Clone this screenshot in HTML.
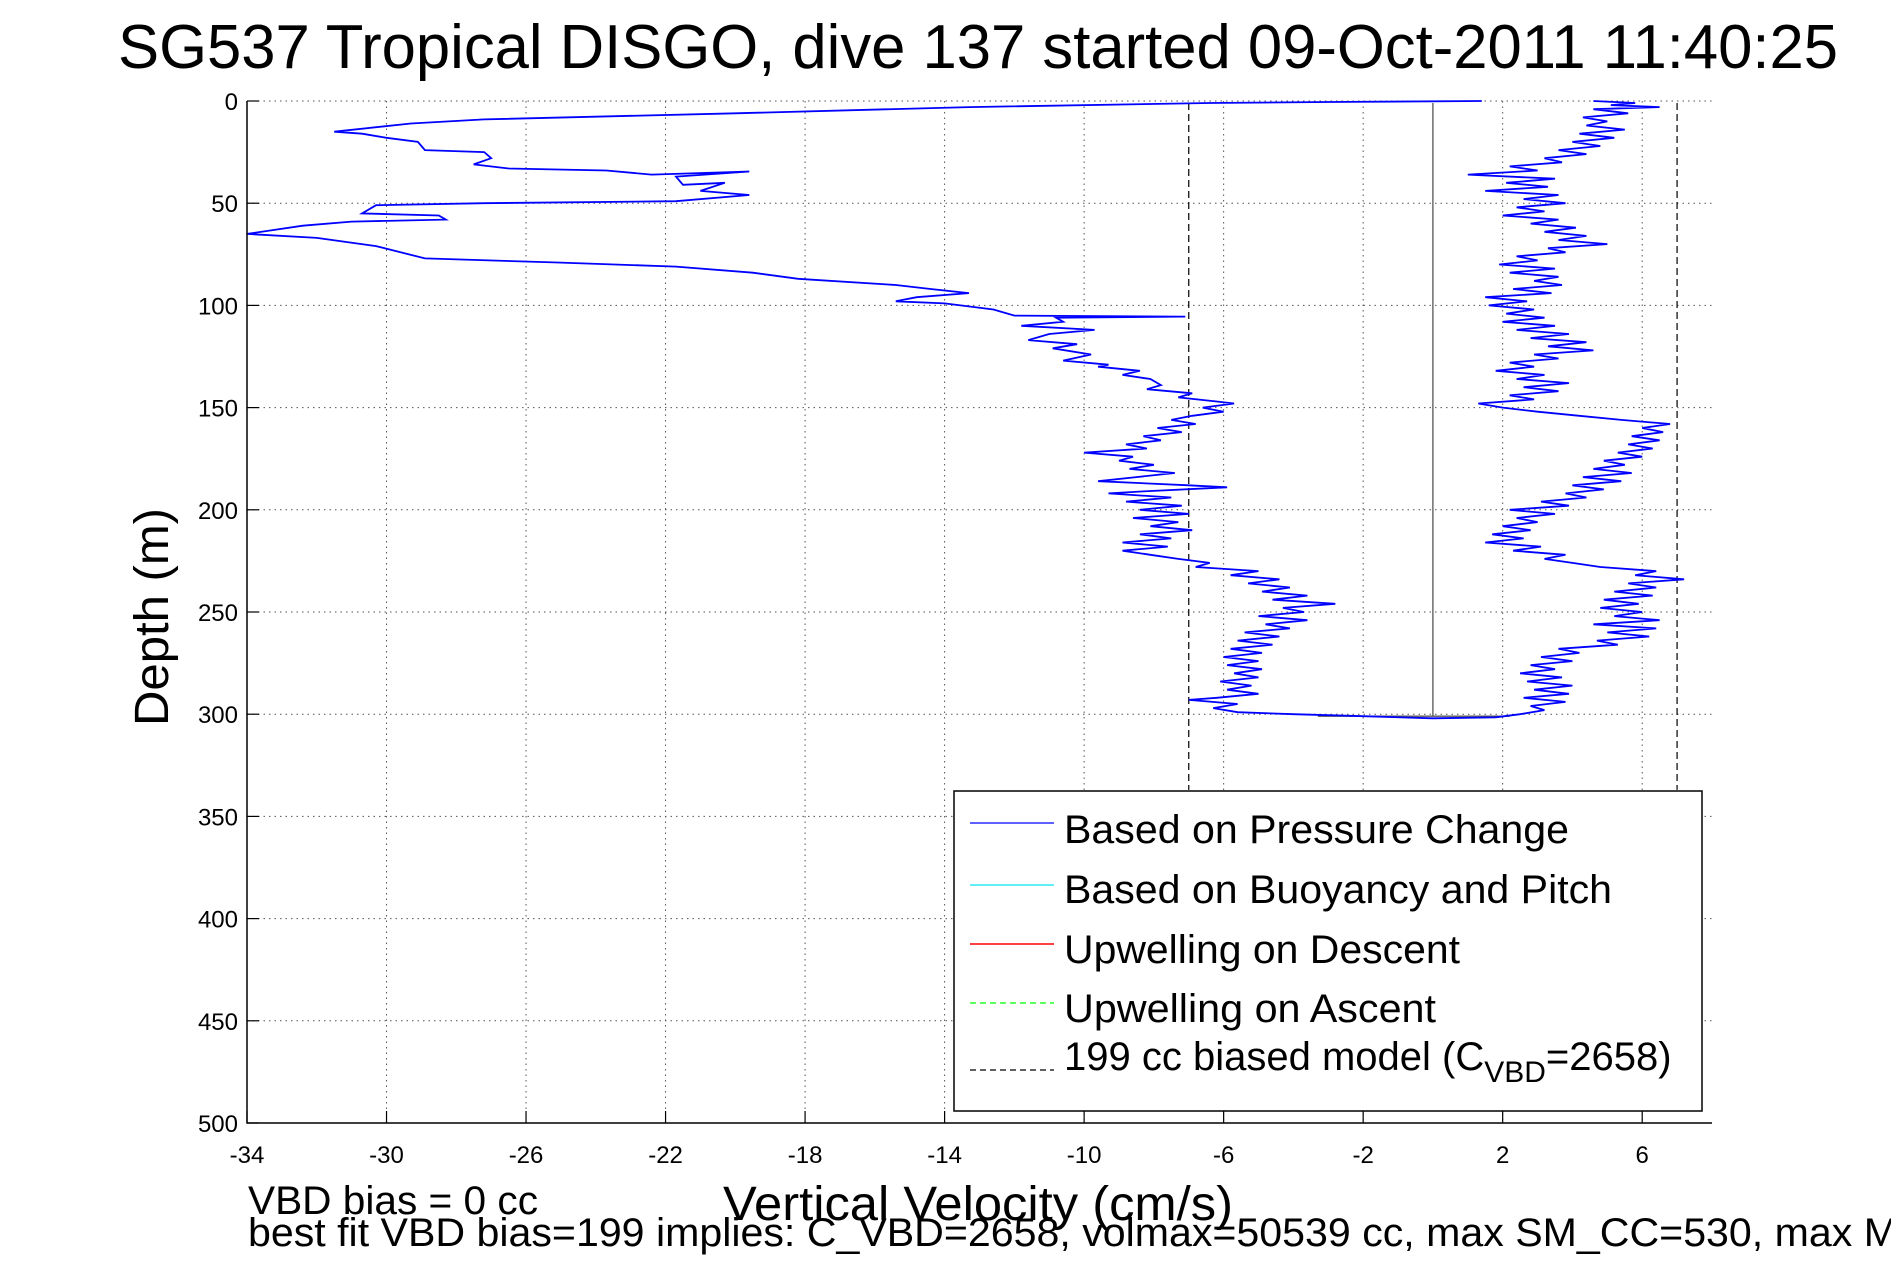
<!DOCTYPE html>
<html><head><meta charset="utf-8"><style>
html,body{margin:0;padding:0;background:#fff;}
svg{display:block;font-family:"Liberation Sans",sans-serif;}
</style></head><body>
<svg id="chart" width="1891" height="1262" viewBox="0 0 1891 1262" xmlns="http://www.w3.org/2000/svg">
<rect x="0" y="0" width="1891" height="1262" fill="#fff"/>
<text x="118" y="68" font-size="62" textLength="1720" lengthAdjust="spacingAndGlyphs">SG537 Tropical DISGO, dive 137 started 09-Oct-2011 11:40:25</text>
<g id="grid"></g>
<g id="series"></g>
<g id="axes"></g>
<text transform="translate(168,726) rotate(-90)" font-size="48" textLength="218" lengthAdjust="spacingAndGlyphs">Depth (m)</text>
<text x="723" y="1220" font-size="48" textLength="510" lengthAdjust="spacingAndGlyphs">Vertical Velocity (cm/s)</text>
<text x="248" y="1214" font-size="40" textLength="290" lengthAdjust="spacingAndGlyphs">VBD bias = 0 cc</text>
<text x="248" y="1246" font-size="40" textLength="1650" lengthAdjust="spacingAndGlyphs">best fit VBD bias=199 implies: C_VBD=2658, volmax=50539 cc, max SM_CC=530, max M</text>
<g>
<rect x="954" y="791" width="748" height="320" fill="#fff" stroke="#000" stroke-width="1.5"/>
<line x1="970" y1="823" x2="1054" y2="823" stroke="#0000ff" stroke-width="1.2"/>
<text x="1064" y="843" font-size="40" textLength="505" lengthAdjust="spacingAndGlyphs">Based on Pressure Change</text>
<line x1="970" y1="885" x2="1054" y2="885" stroke="#00e5ee" stroke-width="1.2"/>
<text x="1064" y="903" font-size="40" textLength="548" lengthAdjust="spacingAndGlyphs">Based on Buoyancy and Pitch</text>
<line x1="970" y1="944" x2="1054" y2="944" stroke="#ff0000" stroke-width="1.5"/>
<text x="1064" y="963" font-size="40" textLength="396" lengthAdjust="spacingAndGlyphs">Upwelling on Descent</text>
<line x1="970" y1="1003" x2="1054" y2="1003" stroke="#00ff00" stroke-width="1.2" stroke-dasharray="6,4"/>
<text x="1064" y="1022" font-size="40" textLength="372" lengthAdjust="spacingAndGlyphs">Upwelling on Ascent</text>
<line x1="970" y1="1070" x2="1054" y2="1070" stroke="#000" stroke-width="1.2" stroke-dasharray="6,4"/>
<text x="1064" y="1070" font-size="40">199 cc biased model (C<tspan font-size="30" dy="12">VBD</tspan><tspan dy="-12">=2658)</tspan></text>
</g>
</svg>
<script>
const xTicks=[-34,-30,-26,-22,-18,-14,-10,-6,-2,2,6];
const yTicks=[0,50,100,150,200,250,300,350,400,450,500];
const descentDepth=[0,0.5,1,3,6,9,11,15,16,18,20,24,25,28,31,33,34,36,34.5,37,41,40,44,46,49,50,51,55,56,58,59,61,65,67,71,77,79,81,84,87,90,92,94,96,98,99,102,105,105.5,106,108,110,112,114,117,119,121,124,127,129,130,132,134,136,139,141,143,145,147,148,150,152,154,156,158,160,162,164,166,168,170,172,174,176,178,180,182,184,186,188,189,191,192,194,196,198,200,202,204,206,208,210,212,214,216,218,220,222,224,226,228,230,232,234,236,238,240,242,244,246,248,250,252,254,256,258,260,262,264,266,268,270,272,274,276,278,280,282,284,286,288,290,292,293,295,297,299,300,301,302,301.5,300,298];
const descentVel=[1.4,-3,-6.4,-13.3,-20,-27.2,-29.3,-31.5,-30.7,-30,-29.1,-28.9,-27.2,-27,-27.5,-26.5,-23.7,-22.4,-19.6,-21.7,-21.5,-20.3,-21,-19.6,-21.7,-27.2,-30.3,-30.7,-28.5,-28.3,-31,-32.4,-34,-32,-30.3,-28.9,-25.1,-21.7,-19.5,-18.2,-15.4,-14.4,-13.3,-14.8,-15.4,-14,-12.6,-12,-7.1,-10.8,-10.6,-11.8,-9.7,-11,-11.6,-10.2,-10.9,-9.8,-10.6,-9.3,-9.6,-8.4,-8.9,-8.1,-7.8,-8.2,-6.9,-7.3,-6.2,-5.7,-6.6,-6.0,-6.9,-7.5,-6.8,-7.9,-7.2,-8.3,-7.8,-8.8,-8.2,-10,-8.6,-9.0,-8.0,-8.7,-7.4,-8.5,-9.6,-7.0,-5.9,-8.3,-9.3,-7.5,-8.8,-7.2,-8.4,-7.0,-8.6,-7.3,-8.1,-6.9,-8.4,-7.5,-8.9,-7.6,-8.9,-8.1,-7.3,-6.4,-6.8,-5.0,-5.8,-4.4,-5.3,-4.1,-4.9,-3.6,-4.6,-2.8,-4.3,-3.7,-5.0,-3.6,-4.8,-4.1,-5.4,-4.4,-5.6,-4.6,-5.8,-4.9,-6.0,-5.0,-5.9,-4.9,-5.7,-5.0,-6.1,-5.2,-5.9,-5.0,-6.2,-7.0,-5.6,-6.3,-5.6,-4,-2,0,1.8,2.5,3.2];
const ascentDepth=[298,296,294,292,290,288,286,284,282,280,278,276,274,272,270,268,266,264,262,260,258,256,254,252,250,248,246,244,242,240,238,236,234,232,230,228,226,224,222,220,218,216,214,212,210,208,206,204,202,200,198,196,194,192,190,188,186,184,182,180,178,176,174,172,170,168,166,164,162,160,158,156,154,152,150,148,146,144,142,140,138,136,134,132,130,128,126,124,122,120,118,116,114,112,110,108,106,104,102,100,98,96,94,92,90,88,86,84,82,80,78,76,74,72,70,68,66,64,62,60,58,56,54,52,50,48,46,44,42,40,38,36,34,32,30,28,26,24,22,20,18,16,14,12,10,8,6,4,3,2,1,0];
const ascentVel=[3.2,2.8,3.8,2.6,3.9,2.9,4.0,2.7,3.7,2.5,3.5,2.8,4.0,3.1,4.2,3.6,5.3,4.7,6.2,5.0,6.4,4.6,6.5,5.2,6.0,4.8,5.9,4.9,6.3,5.2,6.4,5.6,7.2,5.8,6.4,4.8,4.0,3.2,3.8,2.3,3.1,1.5,2.6,1.7,2.8,2.0,3.0,2.4,3.5,2.2,3.9,3.1,4.4,3.8,4.9,4.0,5.4,4.3,5.7,4.6,5.5,4.9,6.0,5.3,6.3,5.6,6.5,5.7,6.6,6.0,6.8,5.4,4.2,3.0,2.0,1.3,2.9,2.2,3.6,2.6,3.9,2.4,3.2,1.8,2.9,2.2,3.6,2.9,4.6,3.3,4.4,2.8,3.9,2.4,3.5,2.0,3.2,2.1,2.9,1.6,2.7,1.5,3.4,2.3,3.7,2.9,3.6,2.2,3.5,1.9,3.0,2.4,3.8,3.3,5.0,3.6,4.4,3.2,4.1,2.8,3.6,2.0,3.2,2.4,3.8,2.6,3.6,1.5,3.3,2.1,3.5,1.0,3.0,2.2,3.7,3.2,4.4,3.6,4.8,4.0,5.2,4.2,5.5,4.4,5.0,4.3,5.6,4.6,6.5,5.1,5.8,4.6];
const buoyDepth=[1,301,301,301];
const buoyVel=[0,0,-3.3,2.2];
const modelVel=[-7,7];
const modelDepthEnd=[337,337];

const X0=247,XW=34.88,Y0=101,YH=2.044;
function X(v){return X0+(v+34)*XW;}
function Y(d){return Y0+d*YH;}
const NS='http://www.w3.org/2000/svg';
function mk(tag,attrs,parent){const e=document.createElementNS(NS,tag);for(const k in attrs)e.setAttribute(k,attrs[k]);parent.appendChild(e);return e;}
const grid=document.getElementById('grid'),axes=document.getElementById('axes'),series=document.getElementById('series');
const xR=1712,yB=Y(500);
xTicks.forEach(t=>{
  if(t>-34){const g=mk('line',{x1:X(t),y1:Y0,x2:X(t),y2:yB,stroke:'#555','stroke-width':1,'stroke-dasharray':'1.5,4'},grid);
  
  }
  const tk=mk('line',{x1:X(t),y1:yB,x2:X(t),y2:yB-12,stroke:'#000','stroke-width':1.2},axes);
  
  
  const lb=mk('text',{x:X(t),y:1163,'font-size':24,'text-anchor':'middle'},axes);
  lb.textContent=t;
  
  
});
yTicks.forEach(t=>{
  if(t<500){const g=mk('line',{x1:X0,y1:Y(t),x2:xR,y2:Y(t),stroke:'#555','stroke-width':1,'stroke-dasharray':'1.5,4'},grid);
  
  }
  const tk=mk('line',{x1:X0,y1:Y(t),x2:X0+12,y2:Y(t),stroke:'#000','stroke-width':1.2},axes);
  
  
  const lb=mk('text',{x:238,y:Y(t)+9,'font-size':24,'text-anchor':'end'},axes);
  lb.textContent=t;
  
  
});
const ax=mk('path',{d:`M${X0},${Y0} V${yB} H${xR}`,fill:'none',stroke:'#000','stroke-width':1.5},axes);


modelVel.forEach((v,i)=>{
  const l=mk('line',{x1:X(v),y1:Y(1),x2:X(v),y2:Y(modelDepthEnd[i]),stroke:'#000','stroke-width':1.2,'stroke-dasharray':'7,4'},series);
  
  
});
function pathOf(ds,vs){return ds.map((d,i)=>(i?'L':'M')+X(vs[i]).toFixed(1)+','+Y(d).toFixed(1)).join(' ');}
const bl=mk('path',{d:pathOf(buoyDepth,buoyVel),fill:'none',stroke:'#555','stroke-width':1.3},series);


const dl=mk('path',{d:pathOf(descentDepth,descentVel),fill:'none',stroke:'#0000ff','stroke-width':1.8},series);


const al=mk('path',{d:pathOf(ascentDepth,ascentVel),fill:'none',stroke:'#0000ff','stroke-width':1.8},series);


</script>
</body></html>
